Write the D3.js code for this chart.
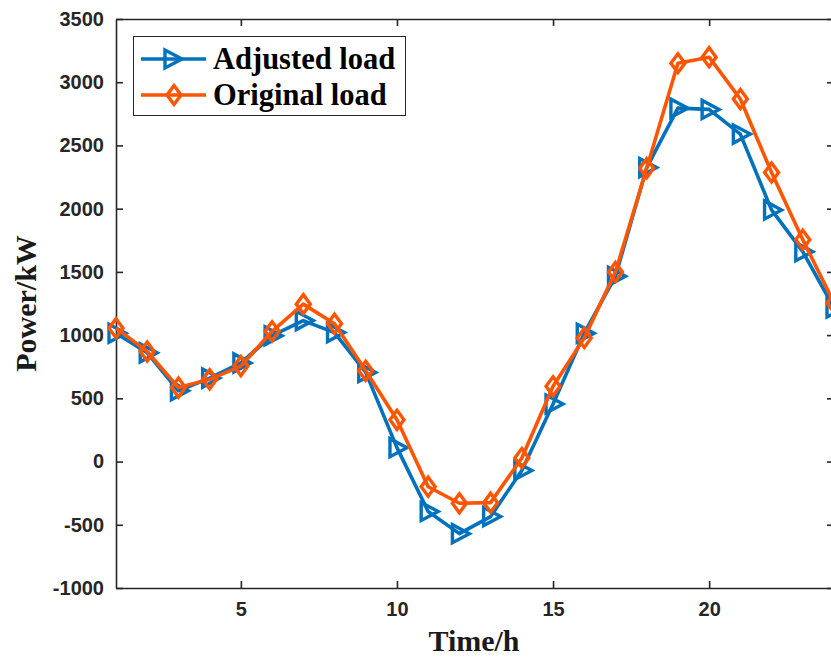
<!DOCTYPE html>
<html>
<head>
<meta charset="utf-8">
<script src="https://cdn.jsdelivr.net/npm/d3@7"></script>
<style>
  html, body { margin: 0; padding: 0; background: #fff; overflow: hidden; }
  svg { display: block; }
</style>
</head>
<body>
<svg id="chart" width="831" height="658"></svg>
<script>
const hours = d3.range(1, 25);
const adjustedLoad = [1015, 860, 560, 660, 780, 995, 1115, 1020, 705, 110, -395, -570, -435, -70, 455, 1015, 1465, 2325, 2795, 2785, 2590, 1990, 1660, 1215];
const originalLoad = [1055, 870, 585, 650, 755, 1030, 1245, 1090, 718, 330, -199, -330, -325, 28, 595, 978, 1500, 2320, 3150, 3198, 2867, 2286, 1755, 1254];
const xTicks = [5, 10, 15, 20];
const yTicks = [-1000, -500, 0, 500, 1000, 1500, 2000, 2500, 3000, 3500];
const seriesNames = ["Adjusted load", "Original load"];
const seriesColors = ["#0072BD", "#FF5500"];

const svg = d3.select("#chart");
const pL = 116, pR = 834, pT = 19, pB = 588;
const x = d3.scaleLinear().domain([1, 24]).range([pL, pR]);
const y = d3.scaleLinear().domain([-1000, 3500]).range([pB, pT]);
const axisColor = "#262626";
const fmt = d => String(d);

svg.append("defs").append("clipPath").attr("id", "plotclip")
  .append("rect").attr("x", pL - 20).attr("y", pT - 20).attr("width", pR - pL + 40).attr("height", pB - pT + 40);

const gx = svg.append("g").attr("transform", `translate(0,${pB})`)
  .call(d3.axisBottom(x).tickValues(xTicks).tickSizeInner(-7).tickSizeOuter(0).tickPadding(14).tickFormat(fmt));
const gxTop = svg.append("g").attr("transform", `translate(0,${pT})`)
  .call(d3.axisTop(x).tickValues(xTicks).tickSizeInner(-7).tickSizeOuter(0).tickFormat(""));
const gy = svg.append("g").attr("transform", `translate(${pL},0)`)
  .call(d3.axisLeft(y).tickValues(yTicks).tickSizeInner(-7).tickSizeOuter(0).tickPadding(12).tickFormat(fmt));
const gyR = svg.append("g").attr("transform", `translate(${pR},0)`)
  .call(d3.axisRight(y).tickValues(yTicks).tickSizeInner(-7).tickSizeOuter(0).tickFormat(""));

[gx, gxTop, gy, gyR].forEach(g => {
  g.selectAll("path.domain").attr("stroke", axisColor).attr("stroke-width", 1.6);
  g.selectAll(".tick line").attr("stroke", axisColor).attr("stroke-width", 1.6);
  g.selectAll(".tick text")
    .attr("fill", axisColor)
    .style("font-family", "'Liberation Sans', Arial, sans-serif")
    .style("font-weight", "bold")
    .style("font-size", "20px");
});

const line = d3.line().x((d, i) => x(hours[i])).y(d => y(d));
const plot = svg.append("g").attr("clip-path", "url(#plotclip)");

const triPath = "M-7,-9 L-7,9 L10,0 Z";
const diaPath = "M0,-9.5 L7,0 L0,9.5 L-7,0 Z";

function drawSeries(values, color, marker) {
  plot.append("path").datum(values)
    .attr("d", line).attr("fill", "none")
    .attr("stroke", color).attr("stroke-width", 3.6).attr("stroke-linejoin", "round");
  plot.selectAll(null).data(values).enter().append("path")
    .attr("d", marker)
    .attr("transform", (d, i) => `translate(${x(hours[i])},${y(d)})`)
    .attr("fill", "none").attr("stroke", color).attr("stroke-width", 3.4);
}
drawSeries(adjustedLoad, seriesColors[0], triPath);
drawSeries(originalLoad, seriesColors[1], diaPath);

svg.append("text")
  .attr("x", (pL + pR) / 2 - 1).attr("y", 651)
  .attr("text-anchor", "middle")
  .style("font-family", "'Liberation Serif', 'Times New Roman', serif")
  .style("font-weight", "bold").style("font-size", "30px")
  .attr("fill", "#1a1a1a")
  .text("Time/h");
svg.append("text")
  .attr("transform", `translate(36,${(pT + pB) / 2}) rotate(-90)`)
  .attr("text-anchor", "middle")
  .style("font-family", "'Liberation Serif', 'Times New Roman', serif")
  .style("font-weight", "bold").style("font-size", "30px")
  .attr("fill", "#1a1a1a")
  .text("Power/kW");

const lg = svg.append("g");
lg.append("rect").attr("x", 133.5).attr("y", 36.5).attr("width", 272).attr("height", 79)
  .attr("fill", "#fff").attr("stroke", "#262626").attr("stroke-width", 1);
const markers = [triPath, diaPath];
seriesNames.forEach((name, i) => {
  const cy = 59 + i * 36;
  lg.append("line").attr("x1", 141).attr("x2", 206).attr("y1", cy).attr("y2", cy)
    .attr("stroke", seriesColors[i]).attr("stroke-width", 3.6);
  lg.append("path").attr("d", markers[i]).attr("transform", `translate(${i === 0 ? 172 : 174},${cy})`)
    .attr("fill", "none").attr("stroke", seriesColors[i]).attr("stroke-width", 3.4);
  lg.append("text").attr("x", 213).attr("y", cy + 10)
    .style("font-family", "'Liberation Serif', 'Times New Roman', serif")
    .style("font-weight", "bold").style("font-size", "30.5px")
    .attr("fill", "#000")
    .text(name);
});
</script>
</body>
</html>
